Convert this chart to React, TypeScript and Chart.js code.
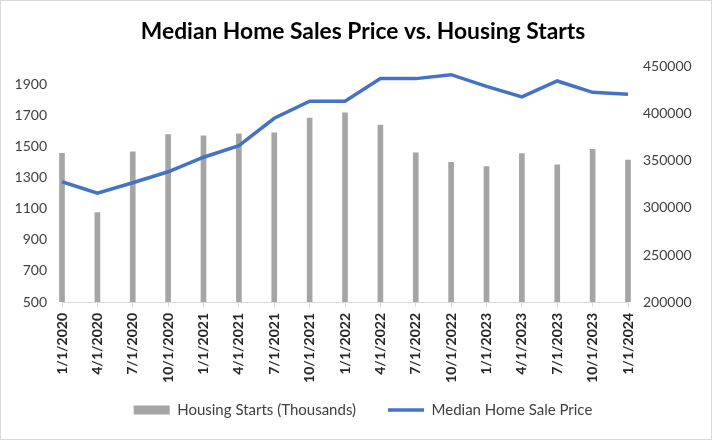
import { useEffect, useRef } from "react";
import { Chart, registerables } from "chart.js";

Chart.register(...registerables);

const categories = [
  "1/1/2020", "4/1/2020", "7/1/2020", "10/1/2020",
  "1/1/2021", "4/1/2021", "7/1/2021", "10/1/2021",
  "1/1/2022", "4/1/2022", "7/1/2022", "10/1/2022",
  "1/1/2023", "4/1/2023", "7/1/2023", "10/1/2023",
  "1/1/2024",
];

const housingStarts = [
  1455, 1075, 1464, 1575,
  1568, 1581, 1587, 1681,
  1715, 1637, 1458, 1398,
  1370, 1453, 1381, 1481,
  1411,
];

const medianHomePrice = [
  327900, 315800, 326800, 338500,
  354000, 366400, 395400, 413500,
  413500, 437600, 437600, 441800,
  429400, 418100, 435100, 423000,
  420900,
];

const leftTicks = [500, 700, 900, 1100, 1300, 1500, 1700, 1900];
const rightTicks = [200000, 250000, 300000, 350000, 400000, 450000];

const titleText = "Median Home Sales Price vs. Housing Starts";
const barLabel = "Housing Starts (Thousands)";
const lineLabel = "Median Home Sale Price";

const FONT = "Lato";
const PAD_LEFT = 14;

const framePlugin = {
  id: "frame",
  beforeDraw(chart: any) {
    const { ctx, width, height } = chart;
    ctx.save();
    ctx.fillStyle = "#ffffff";
    ctx.fillRect(0, 0, width, height);
    ctx.restore();
  },
  afterDraw(chart: any) {
    const { ctx, width, height } = chart;
    ctx.save();
    ctx.strokeStyle = "#d9d9d9";
    ctx.lineWidth = 1;
    ctx.strokeRect(0.5, 0.5, width - 1, height - 1);
    ctx.restore();
  },
};

const noLabelClip = (axis: any) => {
  axis._computeLabelArea = () => undefined;
};

export default function App() {
  const canvasRef = useRef<HTMLCanvasElement | null>(null);

  useEffect(() => {
    if (!canvasRef.current) return;
    const chart = new Chart(canvasRef.current, {
      type: "bar",
      data: {
        labels: categories,
        datasets: [
          {
            type: "bar",
            label: barLabel,
            data: housingStarts,
            backgroundColor: "#a5a5a5",
            borderWidth: 0,
            barThickness: 5,
            yAxisID: "y",
            clip: { left: 6, right: 6, top: 0, bottom: 0 },
            pointStyle: "rect",
            order: 2,
          } as any,
          {
            type: "line",
            label: lineLabel,
            data: medianHomePrice,
            borderColor: "#4472c4",
            backgroundColor: "#4472c4",
            borderWidth: 3.5,
            pointRadius: 0,
            pointHoverRadius: 0,
            tension: 0,
            yAxisID: "y1",
            pointStyle: "line",
            order: 1,
          } as any,
        ],
      },
      options: {
        animation: false,
        responsive: true,
        maintainAspectRatio: false,
        layout: { padding: { left: PAD_LEFT, right: 0, top: 0, bottom: 12.5 } },
        plugins: {
          title: {
            display: true,
            text: titleText,
            color: "#000000",
            font: { family: FONT, size: 22.8, weight: "bold" },
            padding: { top: 18.3, bottom: 21.3 },
          },
          legend: {
            display: true,
            position: "bottom",
            labels: {
              usePointStyle: true,
              pointStyleWidth: 36,
              boxHeight: 9,
              padding: 32,
              color: "#404040",
              font: { family: FONT, size: 15 },
              sort: (a: any, b: any) => a.datasetIndex - b.datasetIndex,
            },
          },
          tooltip: { enabled: false },
        },
        scales: {
          x: {
            type: "category",
            offset: false,
            grid: {
              display: true,
              drawOnChartArea: false,
              drawTicks: true,
              tickLength: 5,
              color: "#d9d9d9",
              offset: false,
            },
            border: { display: true, color: "#d9d9d9" },
            ticks: {
              autoSkip: false,
              minRotation: 90,
              maxRotation: 90,
              padding: 6,
              color: "#262626",
              font: { family: FONT, size: 14, weight: "bold" },
            },
            afterFit(axis: any) {
              axis.height = 68.5;
              noLabelClip(axis);
            },
          },
          y: {
            type: "linear",
            position: "left",
            min: 500,
            max: 2010,
            grid: { display: false, drawTicks: false },
            border: { display: false },
            ticks: {
              padding: 15,
              color: "#404040",
              font: { family: FONT, size: 14 },
              callback: (v: any) => String(v),
            },
            afterBuildTicks(axis: any) {
              axis.ticks = leftTicks.map((v) => ({ value: v }));
            },
            afterFit(axis: any) {
              axis.width = 62 - PAD_LEFT;
              noLabelClip(axis);
            },
          },
          y1: {
            type: "linear",
            position: "right",
            min: 200000,
            max: 450000,
            grid: { display: false, drawTicks: false },
            border: { display: false },
            ticks: {
              padding: 15,
              color: "#404040",
              font: { family: FONT, size: 14 },
              callback: (v: any) => String(v),
            },
            afterBuildTicks(axis: any) {
              axis.ticks = rightTicks.map((v) => ({ value: v }));
            },
            afterFit(axis: any) {
              axis.width = 84;
              noLabelClip(axis);
            },
          },
        },
      } as any,
      plugins: [framePlugin],
    });
    return () => chart.destroy();
  }, []);

  return (
    <div style={{ position: "absolute", left: 0, top: 0, width: 712, height: 440 }}>
      <canvas ref={canvasRef} />
    </div>
  );
}
